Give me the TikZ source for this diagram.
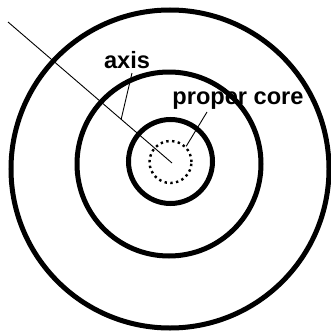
\documentclass[tikz,border=0pt]{standalone}
\usepackage{fontspec}
\setmainfont{Liberation Sans}
\usetikzlibrary{calc}
\tikzset{
  ring/.style={draw, circle, line width=5pt, inner sep=0pt},
  corering/.style={draw, circle, line width=2.4pt, dash pattern=on 2.4pt off 3.4pt, inner sep=0pt},
  lbl/.style={font=\fontsize{23.6}{26}\selectfont\bfseries, inner sep=0pt},
  leader/.style={line width=0.9pt}
}
\begin{document}
\begin{tikzpicture}[x=1pt, y=-1pt]
        \useasboundingbox (0,0) rectangle (330,332);
        % rings
        \node[ring, minimum size=318pt] (outer) at (170,169) {};
        \node[ring, minimum size=184pt] (middle) at (169,164) {};
        \node[ring, minimum size=84pt] (inner) at (170.5,161.5) {};
        \node[corering, minimum size=42pt] (core) at (170.5,162) {};

        % the axis line
        \coordinate (axtop) at (8,22);
        \coordinate (axend) at (172,163);
        \draw[line width=0.9pt] (axtop) -- (axend);

        % labels
        \node[lbl] (axis) at (127,60) {axis};
        \node[lbl] (proper) at (238,101) {proper core};
        \coordinate (axisfoot) at ($(axtop)!0.69!(axend)$);
        \coordinate (axishead) at (132,73);
        \coordinate (properhead) at (207,112);
        \draw[leader] (axishead) -- (axisfoot);
        \draw[leader] (properhead) -- (core.45);
    \end{tikzpicture}
\end{document}
